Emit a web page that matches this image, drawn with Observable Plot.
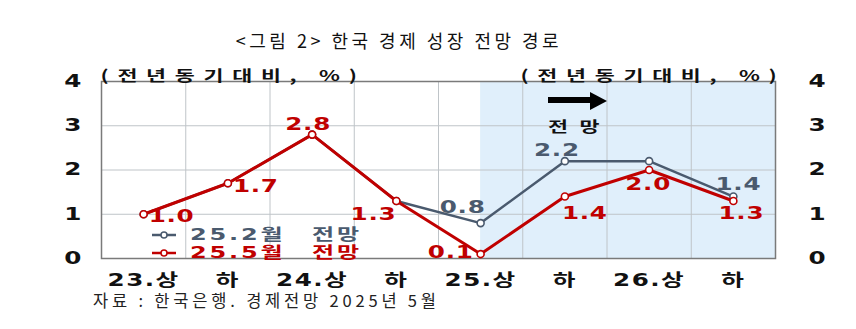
<!DOCTYPE html>
<html><head><meta charset="utf-8">
<script src="https://cdn.jsdelivr.net/npm/d3@7"></script>
<script src="https://cdn.jsdelivr.net/npm/@observablehq/plot@0.6"></script>
<style>
body{margin:0;background:#fff;width:856px;height:329px;position:relative;overflow:hidden;font-family:"Noto Sans CJK KR","Noto Sans",sans-serif;}
#title{position:absolute;top:28px;left:0;width:798px;text-align:center;font-size:18px;letter-spacing:3.5px;color:#111;line-height:24px}
#chart{position:absolute;top:55px;left:0}
#footer{position:absolute;left:93px;top:289px;font-size:16.5px;letter-spacing:3.8px;color:#222;line-height:22px;white-space:nowrap}
.legend{position:absolute;left:152px;white-space:nowrap;line-height:18px;height:18px}
.legend svg{vertical-align:middle;margin-right:14px}
.legend span{display:inline-block;vertical-align:middle;font-weight:bold;font-size:15.5px;line-height:18px;letter-spacing:1.8px;word-spacing:10px;transform:scaleX(1.55);transform-origin:left center;font-family:"DejaVu Sans","Noto Sans CJK KR",sans-serif}
#arrowShaft{position:absolute;left:548px;top:97px;width:43px;height:6px;background:#000}
#arrowHead{position:absolute;left:590px;top:92px;width:0;height:0;border-top:9px solid transparent;border-bottom:9px solid transparent;border-left:17px solid #000}
#fc{position:absolute;left:548px;top:114px;font-size:15px;font-weight:bold;letter-spacing:8px;line-height:24px;color:#111;transform:scaleX(1.45);transform-origin:left center}
.lbl text{letter-spacing:0.5px}
g[aria-label="x-axis tick label"] text{letter-spacing:1px}
.unit text{letter-spacing:6px}
</style></head>
<body>
<div id="title">&lt;그림 2&gt; 한국 경제 성장 전망 경로</div>
<div id="chart"></div>
<div id="footer">자료 : 한국은행. 경제전망 2025년 5월</div>
<div id="arrowShaft"></div><div id="arrowHead"></div>
<div id="fc">전망</div>
<div id="legend"></div>
<script>
// ---- data ----
const periods = ["23.상","하","24.상","하","25.상","하","26.상","하"];
const feb2025 = [1.0, 1.7, 2.8, 1.3, 0.8, 2.2, 2.2, 1.4];
const may2025 = [1.0, 1.7, 2.8, 1.3, 0.1, 1.4, 2.0, 1.3];
const yTicks = [0, 1, 2, 3, 4];
const seriesNames = ["25.2월 전망", "25.5월 전망"];
const unitLabel = "(전년동기대비, %)";
const forecastStartIndex = 4; // "25.상"

// ---- styling / label placement (separate from data) ----
const colFeb = "#4a5a6e", colMay = "#c00000";
const mayLabelOffsets = [[5,2,"start"],[5,3,"start"],[-4,-10,"middle"],[0,14,"end"],[-7,-2,"end"],[-3,17,"start"],[-1,15,"middle"],[8,13,"middle"]];
const febLabelOffsets = [null,null,null,null,[-18,-16,"middle"],[-8,-11,"middle"],null,[5,-12,"middle"]];
const STRETCH = 1.45;

const feb = feb2025.map((v,i)=>({i, v}));
const may = may2025.map((v,i)=>({i, v}));

function labels(rows, offs, fill){
  return rows.filter((d,k)=>offs[k]).map(d=>{
    const [dx,dy,anchor] = offs[d.i];
    return Plot.text([d], {x:"i", y:"v", text:d=>d.v.toFixed(1), dx, dy, textAnchor:anchor,
      fill, fontSize:17, fontWeight:"bold", className:"lbl"});
  });
}

const chart = Plot.plot({
  width: 856, height: 232,
  marginTop: 26, marginBottom: 29, marginLeft: 101, marginRight: 81,
  style: {fontFamily:"'DejaVu Sans','Noto Sans CJK KR',sans-serif", fontSize:"17px", fontWeight:"bold", color:"#111", background:"transparent", overflow:"visible"},
  x: {type:"linear", domain:[-0.5, periods.length-0.5]},
  y: {domain:[0,4]},
  marks: [
    Plot.rect([0], {x1: forecastStartIndex, x2: periods.length-0.5, y1: 0, y2: 4, fill:"#e0effb"}),
    Plot.gridY(yTicks.slice(1,-1), {stroke:"#bfc4c8", strokeOpacity:1}),
    Plot.gridX(d3.range(periods.length-1).map(i=>i+0.5), {stroke:"#bfc4c8", strokeOpacity:1}),
    Plot.frame({stroke:"#7a7a7a", strokeWidth:1.5}),
    Plot.axisX(d3.range(periods.length), {tickFormat:i=>periods[i], tickSize:0, tickPadding:15, fontSize:17, fontWeight:"bold", label:null}),
    Plot.axisY(yTicks, {anchor:"left", tickSize:0, tickPadding:20, fontSize:17, fontWeight:"bold", label:null}),
    Plot.axisY(yTicks, {anchor:"right", tickSize:0, tickPadding:33, fontSize:17, fontWeight:"bold", label:null}),
    Plot.text([unitLabel], {frameAnchor:"top-left", dx:-1, dy:-11, textAnchor:"start", fontSize:15, fontWeight:"bold", fill:"#111", className:"unit", fontFamily:"'Noto Sans CJK KR'"}),
    Plot.text([unitLabel], {frameAnchor:"top-right", dx:10, dy:-11, textAnchor:"end", fontSize:15, fontWeight:"bold", fill:"#111", className:"unit", fontFamily:"'Noto Sans CJK KR'"}),
    Plot.line(feb, {x:"i", y:"v", stroke:colFeb, strokeWidth:2.5}),
    Plot.dot(feb, {x:"i", y:"v", r:3.5, fill:"white", stroke:colFeb, strokeWidth:1.6}),
    Plot.line(may, {x:"i", y:"v", stroke:colMay, strokeWidth:3}),
    Plot.dot(may, {x:"i", y:"v", r:3.5, fill:"white", stroke:colMay, strokeWidth:1.6}),
    ...labels(feb, febLabelOffsets, colFeb),
    ...labels(may, mayLabelOffsets, colMay)
  ]
});
document.getElementById("chart").append(chart);

// widen the bold chart lettering horizontally, about each text's anchor point
chart.querySelectorAll("text").forEach(t=>{
  const tr = t.getAttribute("transform") || "";
  const x = +t.getAttribute("x") || 0;
  t.setAttribute("transform", `${tr} translate(${x},0) scale(${STRETCH},1) translate(${-x},0)`);
});

// legend
const lg = document.getElementById("legend");
[[seriesNames[0], colFeb, 223],[seriesNames[1], colMay, 241]].forEach(([name,col,top])=>{
  const div = document.createElement("div");
  div.className = "legend";
  div.style.top = top + "px";
  div.style.color = col;
  div.innerHTML = `<svg width="24" height="10"><line x1="0" y1="5" x2="24" y2="5" stroke="${col}" stroke-width="2.5"/><circle cx="12" cy="5" r="3" fill="white" stroke="${col}" stroke-width="1.5"/></svg><span>${name}</span>`;
  lg.append(div);
});
</script>
</body></html>
